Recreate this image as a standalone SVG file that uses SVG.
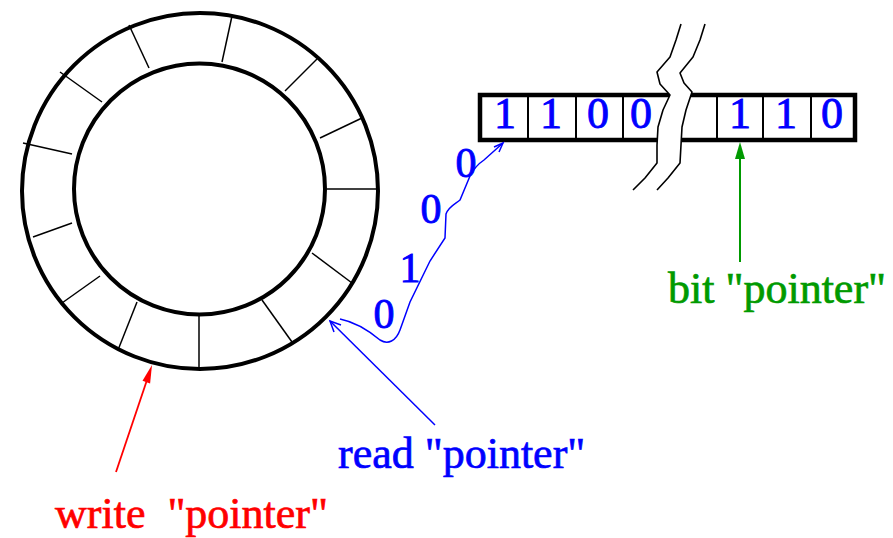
<svg xmlns="http://www.w3.org/2000/svg" width="893" height="538" viewBox="0 0 893 538">
  <style>
    .ring { fill: none; stroke: #000; stroke-width: 4; }
    .slot { stroke: #000; stroke-width: 1.5; }
    .box { fill: #fff; stroke: #000; stroke-width: 4.5; }
    .cell { stroke: #000; stroke-width: 2; }
    .brk { fill: none; stroke: #000; stroke-width: 1.6; stroke-linejoin: round; }
    .digit { font-family: "Liberation Serif", "Times New Roman", serif; font-size: 44px; fill: #0000ff; stroke: #0000ff; stroke-width: 0.9; text-anchor: middle; }
    .label { font-family: "Liberation Serif", "Times New Roman", serif; font-size: 44px; white-space: pre; stroke-width: 0.7; }
    .blue { fill: #0000ff; stroke: #0000ff; }
    .red { fill: #ff0000; stroke: #ff0000; }
    .green { fill: #009a00; stroke: #009a00; }
  </style>

  <!-- circular buffer: two rings split into 13 slots -->
  <g id="ring-buffer">
    <circle class="ring" cx="200" cy="191" r="178"/>
    <circle class="ring" cx="199.5" cy="189" r="125.5"/>
    <line class="slot" x1="232" y1="16" x2="222" y2="62"/>
    <line class="slot" x1="317" y1="59" x2="285" y2="91"/>
    <line class="slot" x1="362" y1="118" x2="320" y2="138"/>
    <line class="slot" x1="377" y1="189" x2="327" y2="189"/>
    <line class="slot" x1="352" y1="283" x2="312" y2="253"/>
    <line class="slot" x1="292" y1="342" x2="262" y2="300"/>
    <line class="slot" x1="199" y1="368" x2="199" y2="315"/>
    <line class="slot" x1="118" y1="350" x2="137" y2="302"/>
    <line class="slot" x1="62" y1="303" x2="100" y2="276"/>
    <line class="slot" x1="33" y1="237" x2="72" y2="223"/>
    <line class="slot" x1="23" y1="143" x2="72" y2="154"/>
    <line class="slot" x1="60" y1="72" x2="102" y2="102"/>
    <line class="slot" x1="129" y1="25" x2="149" y2="68"/>
  </g>

  <!-- bit array with a break in the middle -->
  <g id="bit-array">
    <rect class="box" x="480" y="95" width="375" height="45"/>
    <line class="cell" x1="528" y1="95" x2="528" y2="140"/>
    <line class="cell" x1="576" y1="95" x2="576" y2="140"/>
    <line class="cell" x1="623" y1="95" x2="623" y2="140"/>
    <line class="cell" x1="717" y1="95" x2="717" y2="140"/>
    <line class="cell" x1="763" y1="95" x2="763" y2="140"/>
    <line class="cell" x1="811" y1="95" x2="811" y2="140"/>
    <polygon fill="#fff" points="681,24 676,40 670,57 657,72 660,84 670,95 663,110 658,127 657,145 657,163 645,178 633,190 657,190 668,178 680,163 681,145 682,127 686,110 692,92 684,83 680,73 693,57 700,40 705,24"/>
    <polyline class="brk" points="681,24 676,40 670,57 657,72 660,84 670,95 663,110 658,127 657,145 657,163 645,178 633,190"/>
    <polyline class="brk" points="705,24 700,40 693,57 680,73 684,83 692,92 686,110 682,127 681,145 680,163 668,178 657,190"/>
    <text class="digit" x="505" y="128">1</text>
    <text class="digit" x="551" y="128">1</text>
    <text class="digit" x="598" y="128">0</text>
    <text class="digit" x="641" y="128">0</text>
    <text class="digit" x="740" y="128">1</text>
    <text class="digit" x="786" y="128">1</text>
    <text class="digit" x="832" y="128">0</text>
  </g>

  <!-- bits travelling from the ring into the array -->
  <g id="bit-stream">
    <text class="digit" x="384" y="328" style="font-size:42px">0</text>
    <text class="digit" x="410" y="282" style="font-size:42px">1</text>
    <text class="digit" x="431" y="223" style="font-size:42px">0</text>
    <text class="digit" x="466" y="177" style="font-size:42px">0</text>
  </g>

  <g id="connectors" fill="none">
    <!-- bit stream path -->
    <path stroke="#0000ff" stroke-width="1.5" d="M340,319 C355,322 368,330 380,340 C388,345 396,341 400,330 L410,302 L430,261 L445,238 L446,214 C448,207 455,204 460,200 L470,176 C474,168 478,164 484,160 L503,143"/>
    <polyline stroke="#0000ff" stroke-width="1.5" points="494,147 503,143 499,152"/>
    <!-- read pointer -->
    <line x1="435" y1="425" x2="330" y2="321" stroke="#0000ff" stroke-width="1.5"/>
    <polyline stroke="#0000ff" stroke-width="1.5" points="341,325 330,321 334,332"/>
    <!-- write pointer -->
    <line x1="116" y1="472" x2="148" y2="377" stroke="#ff0000" stroke-width="1.8"/>
    <polygon fill="#ff0000" points="152,365 150.1,383.4 142.5,380.8"/>
    <!-- bit pointer -->
    <line x1="740" y1="262" x2="740" y2="152" stroke="#009a00" stroke-width="2"/>
    <polygon fill="#009a00" points="740,142 745,159 735,159"/>
  </g>

  <g id="labels">
    <text class="label red" x="55" y="528">write  "pointer"</text>
    <text class="label blue" x="338" y="468">read "pointer"</text>
    <text class="label green" x="668" y="303">bit "pointer"</text>
  </g>
</svg>
